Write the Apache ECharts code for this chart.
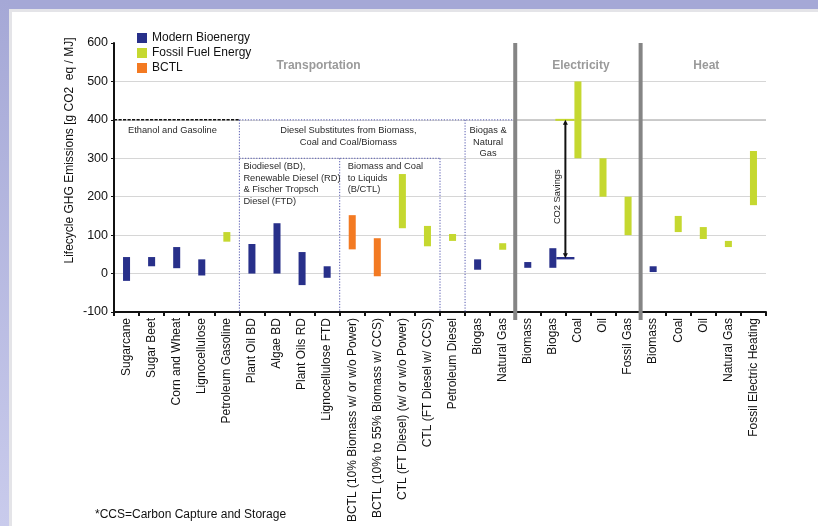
<!DOCTYPE html>
<html>
<head>
<meta charset="utf-8">
<script src="https://cdn.jsdelivr.net/npm/echarts@6/dist/echarts.min.js"></script>
<style>
  html, body { margin: 0; padding: 0; background: #ffffff; }
  #chart { width: 818px; height: 526px; }
</style>
</head>
<body>
<div id="chart"></div>
<script>
// Pathways, left to right: transport fuels, electricity, heat
const categories = [
  'Sugarcane', 'Sugar Beet', 'Corn and Wheat', 'Lignocellulose', 'Petroleum Gasoline',
  'Plant Oil BD', 'Algae BD', 'Plant Oils RD', 'Lignocellulose FTD',
  'BCTL (10% Biomass w/ or w/o Power)', 'BCTL (10% to 55% Biomass w/ CCS)',
  'CTL (FT Diesel) (w/ or w/o Power)', 'CTL (FT Diesel w/ CCS)', 'Petroleum Diesel',
  'Biogas', 'Natural Gas',
  'Biomass', 'Biogas', 'Coal', 'Oil', 'Fossil Gas',
  'Biomass', 'Coal', 'Oil', 'Natural Gas', 'Fossil Electric Heating'
];

// Emission ranges, g CO2 eq / MJ (null = no range for that pathway)
const bioLow  = [-19, 19, 14, -5, null, 0, 0, -30, -11, null, null, null, null, null, 10, null, 15, 15, null, null, null, 4, null, null, null, null];
const bioHigh = [ 43, 43, 69, 37, null, 77, 131, 56, 19, null, null, null, null, null, 37, null, 30, 66, null, null, null, 19, null, null, null, null];

const fossilLow  = [null, null, null, null, 83, null, null, null, null, null, null, 118, 71, 85, null, 62, null, null, 300, 200, 100, null, 108, 90, 69, 178];
const fossilHigh = [null, null, null, null, 108, null, null, null, null, null, null, 259, 124, 103, null, 79, null, null, 500, 300, 200, null, 150, 121, 85, 319];

const bctlLow  = [null, null, null, null, null, null, null, null, null, 63, -7, null, null, null, null, null, null, null, null, null, null, null, null, null, null, null];
const bctlHigh = [null, null, null, null, null, null, null, null, null, 152, 92, null, null, null, null, null, null, null, null, null, null, null, null, null, null, null];

// Value axis
const yMin = -100, yMax = 600, yStep = 100;

// CO2 savings bracket: coal power level down to biogas power level
const savingsTop = 400;
const savingsBottom = 40;

const seriesNames = ['Modern Bioenergy', 'Fossil Fuel Energy', 'BCTL'];
const seriesColors = ['#28308a', '#c5d830', '#f37a22'];

const FONT = 'Liberation Sans';

function toRanges(low, high) {
  const out = [];
  low.forEach((lo, i) => {
    if (lo !== null && high[i] !== null) out.push([i, lo, high[i]]);
  });
  return out;
}

function barWidth(api) {
  return api.size([1, 0])[0] * 0.28;
}

function renderRange(params, api) {
  const i = api.value(0);
  const top = api.coord([i, api.value(2)]);
  const bottom = api.coord([i, api.value(1)]);
  const w = barWidth(api);
  return {
    type: 'rect',
    shape: { x: top[0] - w / 2, y: top[1], width: w, height: bottom[1] - top[1] },
    style: { fill: api.visual('color') }
  };
}

// Section dividers, grouping boxes, headings and the CO2 savings bracket
function renderNotes(params, api) {
  const bw = api.size([1, 0])[0];
  const mid = k => api.coord([k, 0])[0];
  const edge = k => mid(k) - bw / 2;
  const y = v => api.coord([0, v])[1];
  const w = barWidth(api);

  const dotted = { stroke: '#5155ad', lineWidth: 1, lineDash: [1.2, 1.6], fill: null };
  const ln = (x1, y1, x2, y2, style) => ({ type: 'line', shape: { x1, y1, x2, y2 }, style });
  const txt = (x, yy, text, extra) => ({
    type: 'text',
    x: x, y: yy,
    style: Object.assign({
      text: text, fill: '#2a2a2a', fontFamily: FONT, fontSize: 9.3,
      lineHeight: 11.4, align: 'left', verticalAlign: 'top'
    }, extra || {})
  });

  const kids = [];
  const yBottom = y(yMin);
  const last = categories.length;

  // darker reference line at 400 across electricity and heat
  kids.push(ln(edge(16), y(400), edge(last), y(400), { stroke: '#b2b2b2', lineWidth: 1 }));

  // ethanol & gasoline box top (dashed)
  kids.push(ln(edge(0), y(400), edge(5), y(400), { stroke: '#111', lineWidth: 1.5, lineDash: [3.2, 1.3] }));
  // diesel substitutes box
  kids.push(ln(edge(5), y(400), edge(16), y(400), dotted));
  kids.push(ln(edge(5), y(400), edge(5), yBottom, dotted));
  kids.push(ln(edge(14), y(400), edge(14), yBottom, dotted));
  kids.push(ln(edge(5), y(300), edge(13), y(300), dotted));
  kids.push(ln(edge(9), y(300), edge(9), yBottom, dotted));
  kids.push(ln(edge(13), y(300), edge(13), yBottom, dotted));

  // section separators
  [16, 21].forEach(k => {
    kids.push(ln(edge(k), y(yMax), edge(k), yBottom + 8, { stroke: '#858585', lineWidth: 4 }));
  });

  // section headings
  const head = { fill: '#9a9a9a', fontSize: 12, fontWeight: 'bold', align: 'center', verticalAlign: 'middle' };
  kids.push(txt((edge(0) + edge(16)) / 2 + 4, y(542), 'Transportation', head));
  kids.push(txt((edge(16) + edge(21)) / 2 + 3, y(542), 'Electricity', head));
  kids.push(txt((edge(21) + edge(last)) / 2 + 3, y(542), 'Heat', head));

  // group captions
  kids.push(txt(edge(0) + 14, y(400) + 5, 'Ethanol and Gasoline'));
  kids.push(txt(edge(5) + 109, y(400) + 5, 'Diesel Substitutes from Biomass,\nCoal and Coal/Biomass', { align: 'center' }));
  kids.push(txt(edge(5) + 4, y(300) + 2.5, 'Biodiesel (BD),\nRenewable Diesel (RD)\n& Fischer Tropsch\nDiesel (FTD)', { lineHeight: 11.6 }));
  kids.push(txt(edge(9) + 8, y(300) + 2.5, 'Biomass and Coal\nto Liquids\n(B/CTL)', { lineHeight: 11.6 }));
  kids.push(txt(edge(14) + 23, y(400) + 5, 'Biogas &\nNatural\nGas', { align: 'center' }));

  // CO2 savings bracket
  const ax = edge(18);
  const yT = y(savingsTop), yB = y(savingsBottom);
  kids.push(ln(mid(17) + w / 2 - 1, yT, mid(18) - w / 2, yT, { stroke: seriesColors[1], lineWidth: 2 }));
  kids.push(ln(mid(17) + w / 2, yB, mid(18) - w / 2, yB, { stroke: seriesColors[0], lineWidth: 2.4 }));
  kids.push(ln(ax, yT + 3, ax, yB - 3, { stroke: '#111', lineWidth: 2 }));
  kids.push({ type: 'polygon', shape: { points: [[ax, yT], [ax - 2.5, yT + 5], [ax + 2.5, yT + 5]] }, style: { fill: '#111' } });
  kids.push({ type: 'polygon', shape: { points: [[ax, yB], [ax - 2.5, yB - 5], [ax + 2.5, yB - 5]] }, style: { fill: '#111' } });
  kids.push({
    type: 'text', x: ax - 7.5, y: y(200), rotation: Math.PI / 2,
    style: { text: 'CO2 Savings', fill: '#222', fontFamily: FONT, fontSize: 9.3, align: 'center', verticalAlign: 'middle' }
  });

  return { type: 'group', children: kids };
}

const chart = echarts.init(document.getElementById('chart'), null, { renderer: 'canvas' });

const rangeSeries = [
  [bioLow, bioHigh],
  [fossilLow, fossilHigh],
  [bctlLow, bctlHigh]
].map((pair, s) => ({
  type: 'custom',
  name: seriesNames[s],
  renderItem: renderRange,
  itemStyle: { color: seriesColors[s] },
  encode: { x: 0, y: [1, 2] },
  data: toRanges(pair[0], pair[1]),
  z: 5,
  silent: true
}));

chart.setOption({
  animation: false,
  backgroundColor: '#ffffff',
  textStyle: { fontFamily: FONT },
  grid: { left: 114, right: 52, top: 43, bottom: 214, containLabel: false },
  legend: {
    data: seriesNames,
    orient: 'vertical',
    left: 137, top: 32,
    padding: 0,
    icon: 'rect',
    itemWidth: 10, itemHeight: 10, itemGap: 3,
    selectedMode: false,
    textStyle: { fontFamily: FONT, fontSize: 12, color: '#111', lineHeight: 12 }
  },
  graphic: [
    // page frame
    { type: 'rect', left: 0, top: 0, shape: { width: 818, height: 9 }, style: { fill: '#a5a8d6' }, z: 1 },
    { type: 'rect', left: 9, top: 9, shape: { width: 809, height: 3 }, style: { fill: '#e4e4e8' }, z: 1 },
    { type: 'rect', left: 9, top: 9, shape: { width: 3, height: 517 }, style: { fill: '#e4e4e8' }, z: 1 },
    {
      type: 'rect', left: 0, top: 0, shape: { width: 9, height: 526 },
      style: { fill: new echarts.graphic.LinearGradient(0, 0, 0, 1, [{ offset: 0, color: '#a5a8d6' }, { offset: 1, color: '#c9cbec' }]) }, z: 1
    },
    {
      type: 'text', x: 70, y: 150.5, rotation: Math.PI / 2,
      style: { text: 'Lifecycle GHG Emissions [g CO2  eq / MJ]', fill: '#111', fontFamily: FONT, fontSize: 12, align: 'center', verticalAlign: 'middle' }
    },
    {
      type: 'text', left: 95, top: 509,
      style: { text: '*CCS=Carbon Capture and Storage', fill: '#111', fontFamily: FONT, fontSize: 12 }
    }
  ],
  xAxis: {
    type: 'category',
    data: categories,
    boundaryGap: true,
    axisLine: { onZero: false, lineStyle: { color: '#111', width: 2 } },
    axisTick: { show: true, interval: 0, length: 4, lineStyle: { color: '#111', width: 2 } },
    axisLabel: { interval: 0, rotate: 90, fontFamily: FONT, fontSize: 12, color: '#111', margin: 6 },
    splitLine: { show: false }
  },
  yAxis: {
    type: 'value',
    min: yMin, max: yMax, interval: yStep,
    axisLine: { show: true, lineStyle: { color: '#111', width: 2 } },
    axisTick: { show: true, length: 3, lineStyle: { color: '#111', width: 1 } },
    axisLabel: { fontFamily: FONT, fontSize: 12.5, color: '#111', margin: 6 },
    splitLine: { show: true, showMaxLine: false, lineStyle: { color: '#d6d6d6', width: 1 } }
  },
  series: [
    {
      type: 'custom',
      name: 'notes',
      renderItem: renderNotes,
      data: [[0, 0]],
      encode: { x: 0, y: 1 },
      clip: false,
      silent: true,
      z: 3
    }
  ].concat(rangeSeries)
});
</script>
</body>
</html>
